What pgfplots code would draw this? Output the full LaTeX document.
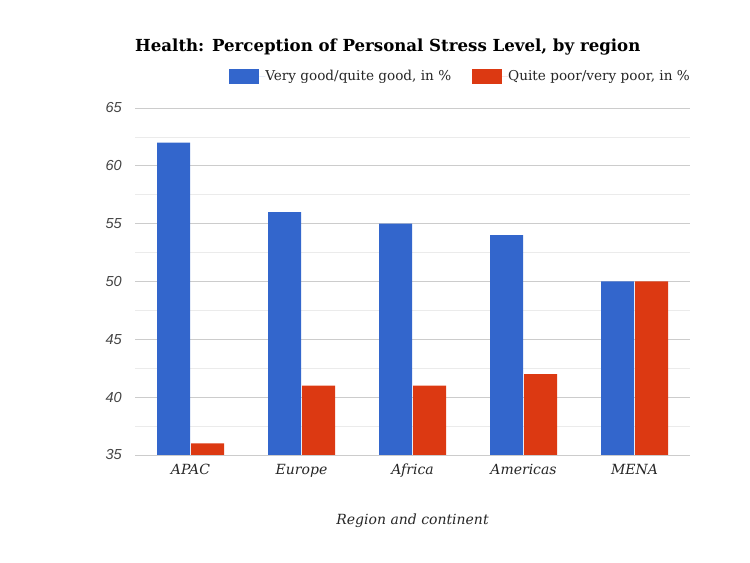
\documentclass[border=0pt]{standalone}
\usepackage{pgfplots}
\pgfplotsset{compat=1.18}
\usepackage{fontspec}
\setmainfont{DejaVu Serif}
\newfontfamily\tickfont{Liberation Sans}
\definecolor{gblue}{HTML}{3366CC}
\definecolor{gred}{HTML}{DC3912}
\definecolor{majgrid}{HTML}{CCCCCC}
\definecolor{mingrid}{HTML}{EBEBEB}
\definecolor{ticktext}{HTML}{444444}
\begin{document}
\begin{tikzpicture}[x=1bp,y=1bp]
\useasboundingbox (0,0) rectangle (750,563);
\begin{axis}[
  at={(135bp,108bp)}, anchor=south west,
  scale only axis, width=555bp, height=347bp,
  ybar, bar width=33bp, 
  xmin=-0.5, xmax=4.5, ymin=35, ymax=65,
  xtick=data, xticklabels={APAC,Europe,Africa,Americas,MENA},
  ytick={35,40,45,50,55,60,65},
  minor ytick={37.5,42.5,47.5,52.5,57.5,62.5},
  ymajorgrids, yminorgrids,
  major grid style={majgrid, line width=0.8bp},
  minor grid style={mingrid, line width=0.8bp},
  axis line style={draw=none},
  major tick length=0, minor tick length=0,
  /pgf/number format/assume math mode=true,
  yticklabel style={font=\tickfont\itshape\fontsize{14.5bp}{16bp}\selectfont, text=ticktext, anchor=east, inner sep=0pt, xshift=-13bp},
  xticklabel style={font=\itshape\fontsize{14bp}{16bp}\selectfont, text=black!85, anchor=north, inner sep=0pt, yshift=-9bp},
  xlabel={Region and continent},
  xlabel style={font=\itshape\fontsize{14bp}{16bp}\selectfont, text=black!85, at={(axis description cs:0.5,0)}, anchor=center, yshift=-66bp},
  legend columns=2,
  legend style={at={(1,1)}, anchor=east, yshift=31.5bp, draw=none, fill=none, inner sep=0pt,
    nodes={inner sep=0pt},
    font=\fontsize{13.6bp}{16bp}\selectfont, text=black!85,
    /tikz/every even column/.append style={column sep=21bp}},
  legend image code/.code={\fill[#1] (0bp,-7.5bp) rectangle (30bp,7.5bp); \path (30bp,0) -- (36bp,0);},
]
\addplot[fill=gblue, draw=none, bar shift=-17bp] coordinates {(0,62) (1,56) (2,55) (3,54) (4,50)};
\addplot[fill=gred, draw=none, bar shift=17bp] coordinates {(0,36) (1,41) (2,41) (3,42) (4,50)};
\legend{{Very good/quite good, in \%}, {Quite poor/very poor, in \%}}
\end{axis}
\node[anchor=west, inner sep=0pt, font=\bfseries\fontsize{16.6bp}{20bp}\selectfont] at (135,516) {Health: Perception of Personal Stress Level, by region};
\end{tikzpicture}
\end{document}
